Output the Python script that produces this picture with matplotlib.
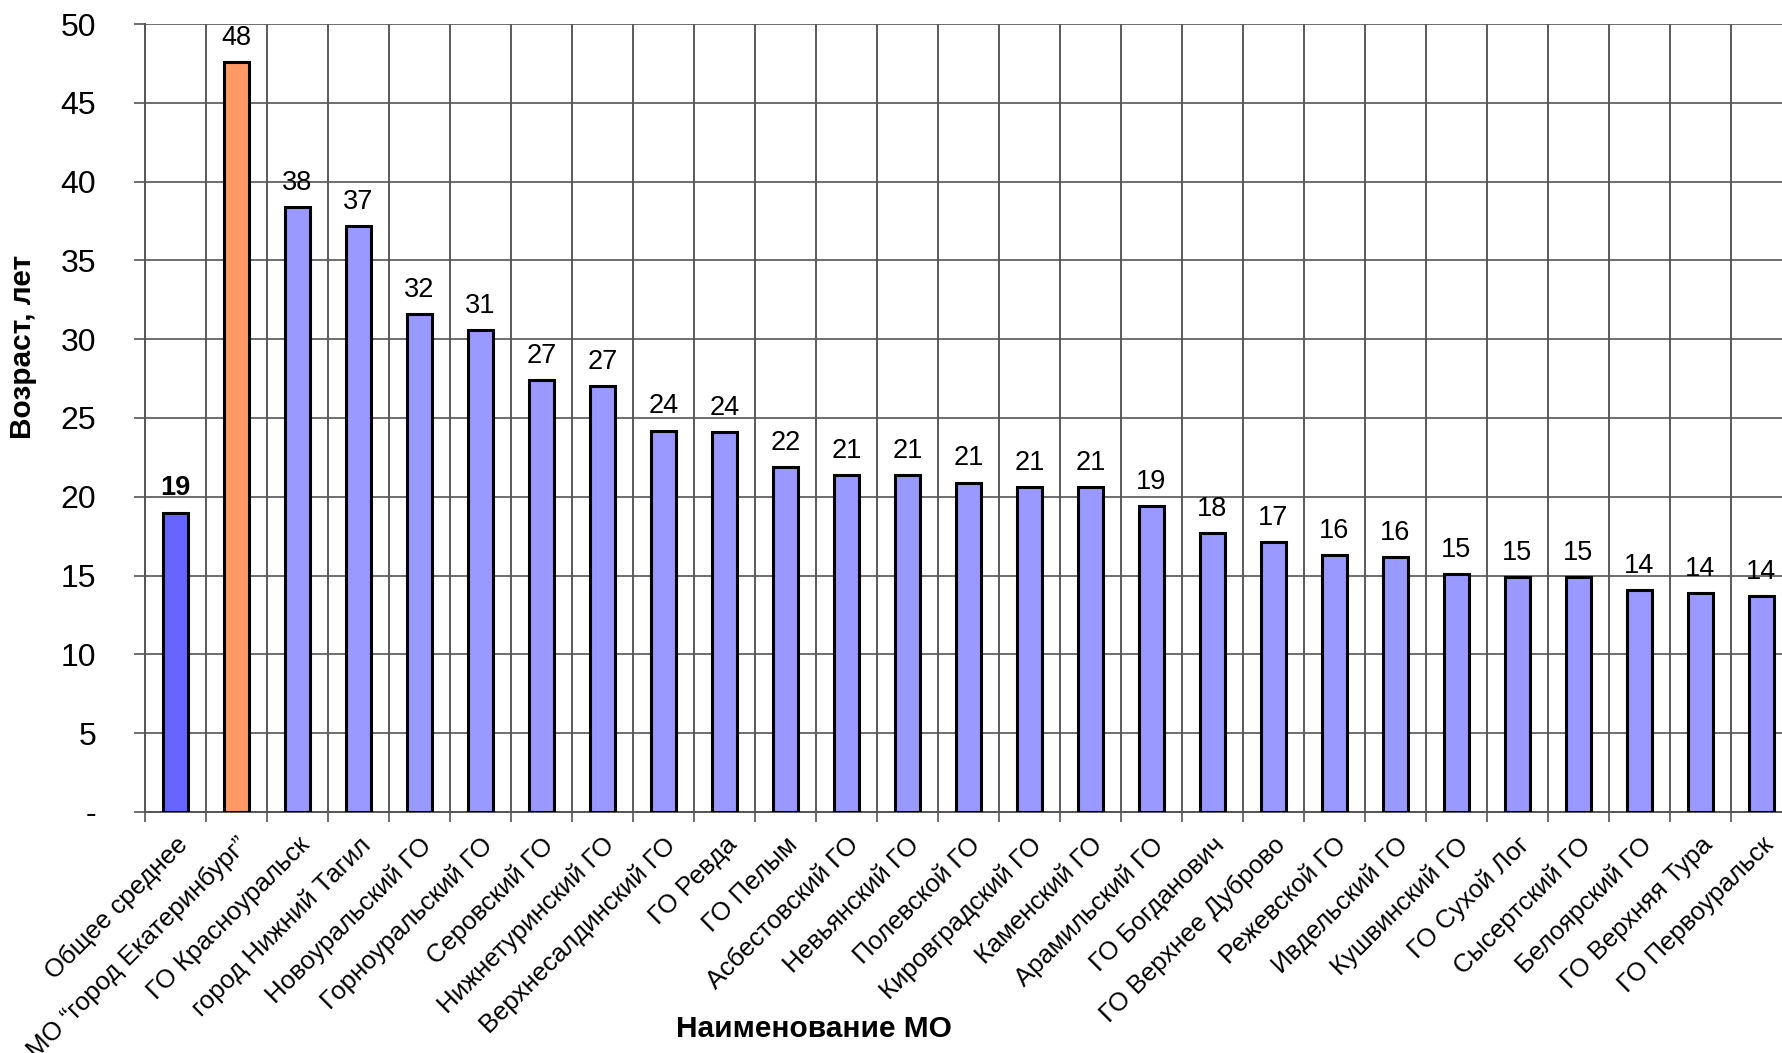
import numpy as np
import matplotlib
matplotlib.use("Agg")
import matplotlib.pyplot as plt
from matplotlib.ticker import FixedLocator, FuncFormatter

plt.rcParams['font.family'] = ['Liberation Sans', 'DejaVu Sans']

# Средний возраст по муниципальным образованиям
names = [
    "Общее среднее", "МО “город Екатеринбург”", "ГО Красноуральск",
    "город Нижний Тагил", "Новоуральский ГО", "Горноуральский ГО",
    "Серовский ГО", "Нижнетуринский ГО", "Верхнесалдинский ГО",
    "ГО Ревда", "ГО Пелым", "Асбестовский ГО", "Невьянский ГО",
    "Полевской ГО", "Кировградский ГО", "Каменский ГО",
    "Арамильский ГО", "ГО Богданович", "ГО Верхнее Дуброво",
    "Режевской ГО", "Ивдельский ГО", "Кушвинский ГО", "ГО Сухой Лог",
    "Сысертский ГО", "Белоярский ГО", "ГО Верхняя Тура", "ГО Первоуральск",
]
ages = [19.0, 47.6, 38.4, 37.2, 31.6, 30.6, 27.4, 27.0, 24.2, 24.1, 21.9,
        21.4, 21.4, 20.9, 20.6, 20.6, 19.4, 17.7, 17.1, 16.3, 16.2, 15.1,
        14.9, 14.9, 14.1, 13.9, 13.7]
y_ticks = [0, 5, 10, 15, 20, 25, 30, 35, 40, 45, 50]

colors = ['#6666FF', '#FF9966'] + ['#9999FF'] * (len(ages) - 2)

fig = plt.figure(figsize=(17.83, 10.53), dpi=100)
ax = fig.add_axes([0.0813, 0.2289, 0.9237, 0.7483])

x = np.arange(len(ages))
ax.bar(x, ages, width=0.41, color=colors, edgecolor='black', linewidth=2.2, zorder=3)

for i, v in enumerate(ages):
    ax.annotate(f"{v:.0f}", (i, v), xytext=(0, 8), textcoords='offset points',
                ha='center', va='bottom', fontsize=19.5,
                fontweight='bold' if i == 0 else 'normal')

ax.set_xlim(-0.5, len(ages) - 0.5)
ax.set_ylim(0, 50)

# y axis: ticks every 5, zero shown as a dash
ax.yaxis.set_major_locator(FixedLocator(y_ticks))
ax.yaxis.set_major_formatter(FuncFormatter(lambda v, p: '-' if v == 0 else f"{v:.0f}"))
ax.tick_params(axis='y', length=8, width=1.2, color='#555555', labelsize=23, pad=27)

# x axis: names at centres, tick marks on category boundaries
ax.set_xticks(x)
ax.set_xticklabels(names, rotation=45, ha='right', rotation_mode='anchor', fontsize=18.5)
ax.xaxis.set_minor_locator(FixedLocator(np.arange(len(ages) + 1) - 0.5))
ax.tick_params(axis='x', which='major', length=0, pad=15)
ax.tick_params(axis='x', which='minor', length=7, width=1.2, color='#555555')

ax.grid(axis='y', which='major', color='#555555', linewidth=1.2, zorder=0)
ax.grid(axis='x', which='minor', color='#404040', linewidth=1.2, zorder=0)
ax.set_axisbelow(True)

for side in ['top', 'right']:
    ax.spines[side].set_visible(False)
for side in ['left', 'bottom']:
    ax.spines[side].set_color('#555555')
    ax.spines[side].set_linewidth(1.4)

fig.text(0.013, 0.671, "Возраст, лет", rotation=90, ha='center', va='center',
         fontsize=21.5, fontweight='bold')
fig.text(0.4566, 0.023, "Наименование МО", ha='center', va='center',
         fontsize=21.5, fontweight='bold')

fig.savefig("out.png", dpi=100)
